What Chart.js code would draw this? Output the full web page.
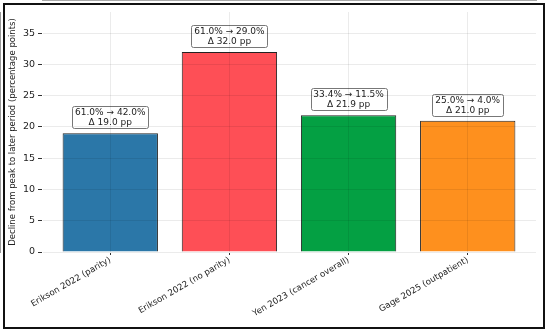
<!DOCTYPE html>
<html lang="en">
<head>
<meta charset="UTF-8">
<script src="https://cdn.jsdelivr.net/npm/chart.js@4/dist/chart.umd.min.js"></script>
<style>
  html, body { margin: 0; padding: 0; background: #fff; }
  #wrap { width: 550px; height: 333px; position: relative; }
</style>
</head>
<body>
<div id="wrap"><canvas id="chart" width="550" height="333"></canvas></div>
<script>
// data
const studies = ['Erikson 2022 (parity)', 'Erikson 2022 (no parity)', 'Yen 2023 (cancer overall)', 'Gage 2025 (outpatient)'];
const peakPct = [61.0, 61.0, 33.4, 25.0];
const laterPct = [42.0, 29.0, 11.5, 4.0];
const declinePp = [19.0, 32.0, 21.9, 21.0];
const barColors = ['#2b77a8', '#fe4f56', '#04a043', '#fe901e'];
const yTicks = [0, 5, 10, 15, 20, 25, 30, 35];

const FONT = 'DejaVu Sans';

// outer frame around whole figure
const framePlugin = {
  id: 'frame',
  afterDraw(chart) {
    const ctx = chart.ctx;
    ctx.save();
    ctx.strokeStyle = '#111';
    ctx.lineWidth = 2;
    ctx.strokeRect(4, 4, 540, 324);
    ctx.restore();
  }
};

// annotation boxes above each bar
const labelPlugin = {
  id: 'barLabels',
  afterDatasetsDraw(chart) {
    const ctx = chart.ctx;
    const meta = chart.getDatasetMeta(0);
    ctx.save();
    ctx.font = '9px "' + FONT + '"';
    ctx.textAlign = 'center';
    ctx.textBaseline = 'middle';
    meta.data.forEach((bar, i) => {
      const l1 = peakPct[i].toFixed(1) + '% \u2192 ' + laterPct[i].toFixed(1) + '%';
      const l2 = '\u0394 ' + declinePp[i].toFixed(1) + ' pp';
      const w = Math.round(Math.max(ctx.measureText(l1).width, ctx.measureText(l2).width) + 6);
      const h = 22;
      const x = Math.round(bar.x - w / 2);
      const y = Math.round(bar.y - 5 - h);
      ctx.fillStyle = '#fff';
      ctx.strokeStyle = '#777';
      ctx.lineWidth = 1;
      ctx.beginPath();
      ctx.roundRect(x + 0.5, y + 0.5, w, h, 2);
      ctx.fill();
      ctx.stroke();
      ctx.fillStyle = '#222';
      ctx.fillText(l1, bar.x, y + 6.5);
      ctx.fillText(l2, bar.x, y + 16.5);
    });
    ctx.restore();
  }
};

new Chart(document.getElementById('chart'), {
  type: 'bar',
  data: {
    datasets: [{
      data: declinePp.map((v, i) => ({ x: i, y: v })),
      backgroundColor: barColors,
      borderColor: '#222',
      borderWidth: 1,
      barPercentage: 0.8,
      categoryPercentage: 1.0
    }]
  },
  options: {
    responsive: false,
    animation: false,
    layout: { padding: { left: 8, right: 14, top: 12, bottom: 6 } },
    plugins: { legend: { display: false }, tooltip: { enabled: false } },
    scales: {
      x: {
        type: 'linear',
        offset: false,
        min: -0.573,
        max: 3.573,
        afterBuildTicks(scale) { scale.ticks = studies.map((s, i) => ({ value: i })); },
        grid: { color: 'rgba(0,0,0,0.08)', offset: false, z: 1, tickColor: '#333', tickLength: 3 },
        border: { color: '#555', width: 1 },
        ticks: {
          color: '#222',
          font: { family: FONT, size: 8.6 },
          maxRotation: 30,
          minRotation: 30,
          padding: 0,
          callback: (v) => studies[v]
        },
        afterFit(scale) { scale.height = 75; }
      },
      y: {
        min: 0,
        max: 38.4,
        afterBuildTicks(scale) { scale.ticks = yTicks.map(v => ({ value: v })); },
        grid: { color: 'rgba(0,0,0,0.08)', z: 1, tickColor: '#333', tickLength: 4 },
        border: { color: '#333', width: 1 },
        ticks: { color: '#222', font: { family: FONT, size: 9.5 }, padding: 3 },
        title: {
          display: true,
          text: 'Decline from peak to later period (percentage points)',
          color: '#222',
          font: { family: FONT, size: 8.5 },
          padding: { top: 0, bottom: 2 }
        },
        afterFit(scale) { scale.width = 34; }
      }
    }
  },
  plugins: [labelPlugin, framePlugin]
});
</script>
</body>
</html>
